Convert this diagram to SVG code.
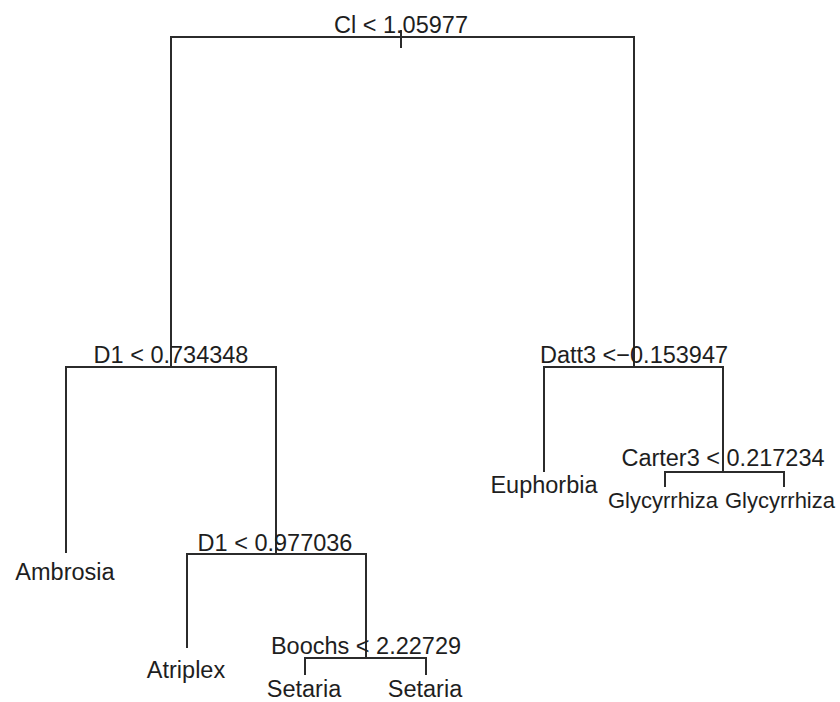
<svg xmlns="http://www.w3.org/2000/svg" width="840" height="702" viewBox="0 0 840 702">
<style>
.e{fill:none;stroke:#2b2b2b;stroke-width:2}
.t{font-family:"Liberation Sans",Arial,sans-serif;font-size:23.5px;fill:#1e1e1e;text-anchor:middle}
.s{font-size:22px}
</style>
<rect width="840" height="702" fill="#ffffff"/>
<g id="connectors">
<path class="e" d="M401,30V48"/>
<path class="e" d="M171,367V37H634V367"/>
<path class="e" d="M66,553V367H276V554"/>
<path class="e" d="M187,648V554H366V658"/>
<path class="e" d="M305,675V658H426V675"/>
<path class="e" d="M544,472V367H723V472"/>
<path class="e" d="M665,487V472H784V487"/>
</g>
<g id="n-root"><text class="t" x="401" y="33">Cl &lt; 1.05977</text></g>
<g id="n-d1a"><text class="t" x="171" y="363">D1 &lt; 0.734348</text></g>
<g id="n-datt3"><text class="t" x="634" y="363">Datt3 &lt;−0.153947</text></g>
<g id="n-ambrosia"><text class="t" x="65" y="580">Ambrosia</text></g>
<g id="n-d1b"><text class="t" x="275" y="551">D1 &lt; 0.977036</text></g>
<g id="n-atriplex"><text class="t" x="186" y="678">Atriplex</text></g>
<g id="n-boochs"><text class="t" x="366" y="654">Boochs &lt; 2.22729</text></g>
<g id="n-setaria1"><text class="t" x="304" y="697">Setaria</text></g>
<g id="n-setaria2"><text class="t" x="425" y="697">Setaria</text></g>
<g id="n-euphorbia"><text class="t" x="544" y="493">Euphorbia</text></g>
<g id="n-carter3"><text class="t" x="723" y="466">Carter3 &lt; 0.217234</text></g>
<g id="n-glyc1"><text class="t s" x="663" y="508">Glycyrrhiza</text></g>
<g id="n-glyc2"><text class="t s" x="780" y="508">Glycyrrhiza</text></g>
</svg>
